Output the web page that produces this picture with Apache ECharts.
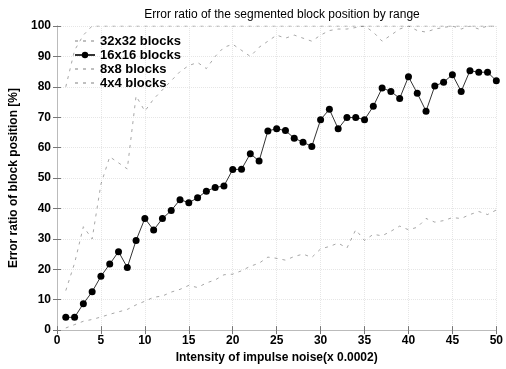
<!DOCTYPE html>
<html>
<head>
<meta charset="utf-8">
<script src="https://cdn.jsdelivr.net/npm/echarts@6/dist/echarts.min.js"></script>
<style>html,body{margin:0;padding:0;background:#fff;}#c{width:506px;height:369px;}</style>
</head>
<body>
<div id="c"></div>
<script>
var intensity = [1,2,3,4,5,6,7,8,9,10,11,12,13,14,15,16,17,18,19,20,21,22,23,24,25,26,27,28,29,30,31,32,33,34,35,36,37,38,39,40,41,42,43,44,45,46,47,48,49,50];
var blocks32 = [0.7,1.8,2.9,3.5,4.3,5.2,6.0,6.8,8.3,9.5,10.8,11.2,12.5,13.4,14.7,14.0,15.5,16.5,18.2,18.4,19.5,21.0,22.0,24.0,23.6,23.0,24.2,25.0,23.9,26.7,27.5,28.6,27.0,33.0,29.5,31.5,31.0,32.5,34.2,33.0,33.8,36.7,35.5,36.0,37.0,36.7,38.0,39.0,38.0,39.5];
var blocks16 = [4.2,4.2,8.7,12.6,17.7,21.7,25.8,20.6,29.5,36.7,32.9,36.7,39.3,42.9,41.9,43.5,45.7,46.9,47.4,52.8,52.9,58.0,55.6,65.5,66.2,65.6,63.1,61.8,60.4,69.2,72.6,66.2,69.9,69.9,69.2,73.6,79.6,78.5,76.2,83.3,77.9,72.0,80.3,81.5,84.0,78.5,85.3,84.8,84.8,82.0];
var blocks8 = [13,22,34,30,48,57,55,53,77,72,76,79,82,85,87,88,86,90,93,94,92,90,93,95,97,96,97,96,95,97,98.5,99,99,99.5,100,98,95,97,99,100,98.5,98,99,99.5,100,99,100,99,100,100];
var blocks4 = [80,92,97,100,100,100,100,100,100,100,100,100,100,100,100,100,100,100,100,100,100,100,100,100,100,100,100,100,100,100,100,100,100,100,100,100,100,100,100,100,100,100,100,100,100,100,100,100,100,100];
var seriesNames = ['32x32 blocks','16x16 blocks','8x8 blocks','4x4 blocks'];
var xTicks = [0,5,10,15,20,25,30,35,40,45,50];
var yTicks = [0,10,20,30,40,50,60,70,80,90,100];

function pairs(arr){ return intensity.map(function(x,i){ return [x, arr[i]]; }); }

var chart = echarts.init(document.getElementById('c'), null, {renderer:'canvas'});
var F = 'Liberation Sans, Arial, Helvetica, sans-serif';
var faintLine = {color:'#000', width:1, opacity:0.35, type:[3,5]};
var axisBase = {
  min: 0, axisLine:{show:true, lineStyle:{color:'#bbb', width:1}},
  axisTick:{show:true, inside:true, length:4, lineStyle:{color:'#777'}},
  splitLine:{show:true, lineStyle:{color:'#e6e6e6', type:'dotted', width:1}}
};
var hiddenIcon = {itemStyle:{opacity:0}, lineStyle:{opacity:0.25}};
chart.setOption({
  animation:false,
  backgroundColor:'#fff',
  title:{text:'Error ratio of the segmented block position by range', left:277, textAlign:'center', top:4,
    textStyle:{fontFamily:F, fontSize:12, fontWeight:'normal', color:'#000'}},
  legend:{orient:'vertical', left:69, top:29, itemWidth:20, itemHeight:8, itemGap:0,
    data:[
      Object.assign({name:seriesNames[0]}, hiddenIcon),
      {name:seriesNames[1]},
      Object.assign({name:seriesNames[2]}, hiddenIcon),
      Object.assign({name:seriesNames[3]}, hiddenIcon)
    ],
    textStyle:{fontFamily:F, fontSize:13, fontWeight:'bold', color:'#000', lineHeight:14}},
  grid:{left:57, right:9, top:26, bottom:36, containLabel:false},
  xAxis:[
    Object.assign({}, axisBase, {type:'value', max:50, interval:5, position:'bottom',
      name:'Intensity of impulse noise(x 0.0002)', nameLocation:'middle', nameGap:20,
      nameTextStyle:{fontFamily:F, fontSize:12, fontWeight:'bold', color:'#000'},
      axisLabel:{fontFamily:F, fontSize:12, fontWeight:'bold', color:'#000', margin:5,
        formatter:function(v){ return xTicks.indexOf(v)>=0 ? String(v) : ''; }}}),
    Object.assign({}, axisBase, {type:'value', max:50, interval:5, position:'top',
      axisLabel:{show:false}, splitLine:{show:false}})
  ],
  yAxis:[
    Object.assign({}, axisBase, {type:'value', max:100, interval:10, position:'left',
      name:'Error ratio of block position [%]', nameLocation:'middle', nameGap:29,
      nameTextStyle:{fontFamily:F, fontSize:12, fontWeight:'bold', color:'#000'},
      axisLabel:{fontFamily:F, fontSize:12, fontWeight:'bold', color:'#000', margin:6,
        formatter:function(v){ return yTicks.indexOf(v)>=0 ? String(v) : ''; }}}),
    Object.assign({}, axisBase, {type:'value', max:100, interval:10, position:'right',
      axisLabel:{show:false}, splitLine:{show:false}})
  ],
  series:[
    {name:seriesNames[0], type:'line', data:pairs(blocks32), symbol:'none', lineStyle:faintLine, itemStyle:{color:'#000'}},
    {name:seriesNames[1], type:'line', data:pairs(blocks16), symbol:'circle', symbolSize:7,
      itemStyle:{color:'#000'}, lineStyle:{color:'#000', width:1, opacity:0.8}},
    {name:seriesNames[2], type:'line', data:pairs(blocks8), symbol:'none', lineStyle:faintLine, itemStyle:{color:'#000'}},
    {name:seriesNames[3], type:'line', data:pairs(blocks4), symbol:'none', lineStyle:faintLine, itemStyle:{color:'#000'}}
  ]
});
</script>
</body>
</html>
